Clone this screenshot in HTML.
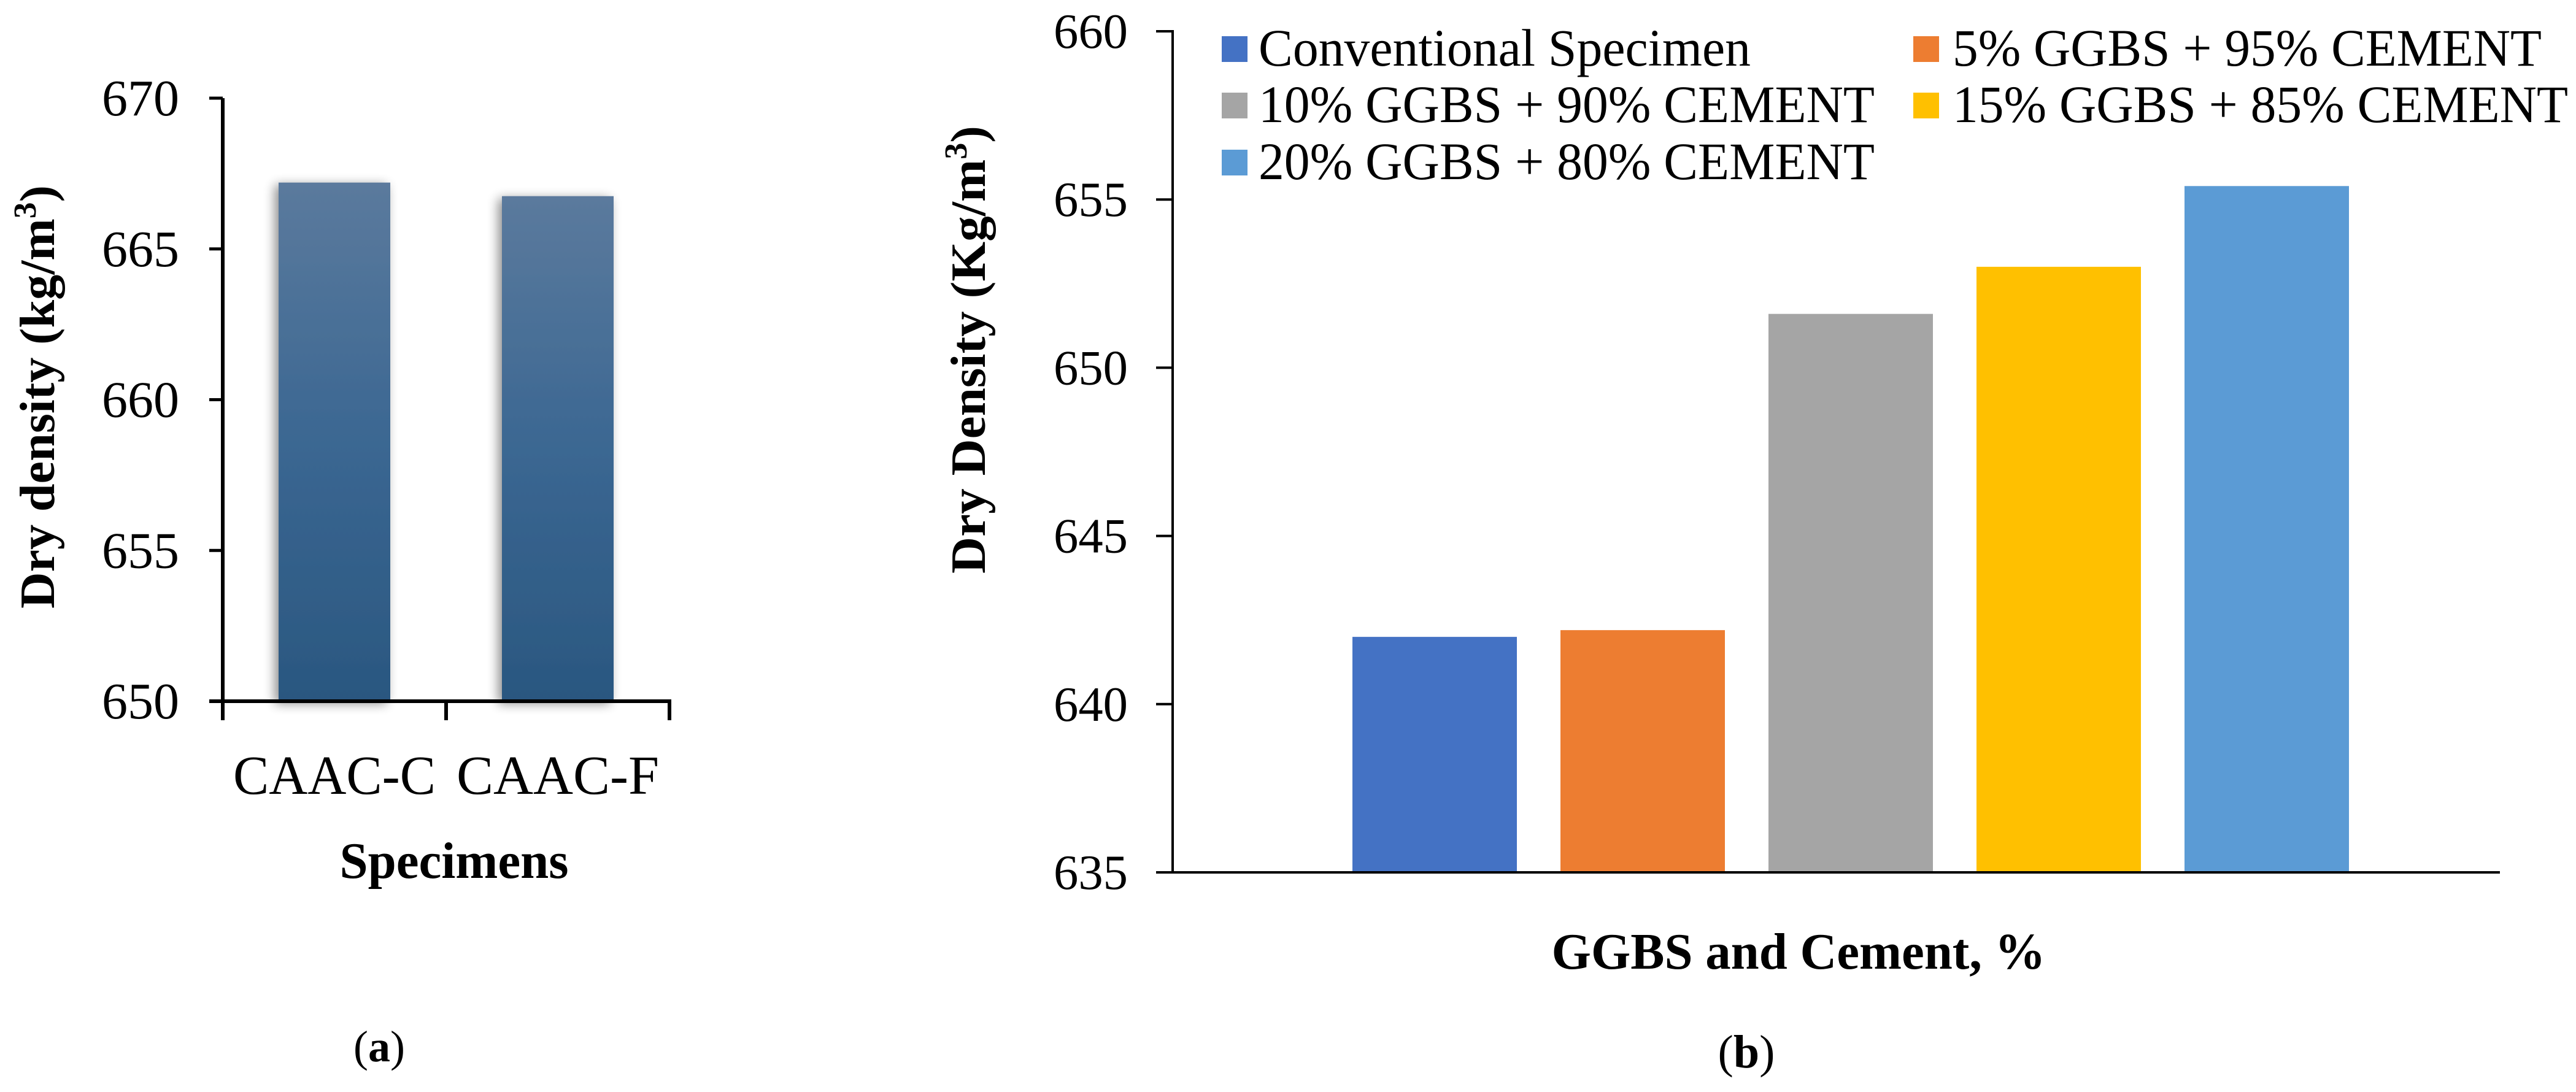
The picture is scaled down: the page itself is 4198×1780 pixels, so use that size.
<!DOCTYPE html>
<html><head><meta charset="utf-8"><style>
html,body{margin:0;padding:0;background:#fff}
svg{display:block}
text{font-family:"Liberation Serif",serif;fill:#000}
</style></head><body>
<svg id="fig" width="4198" height="1780" viewBox="0 0 4198 1780">
<defs>
<linearGradient id="gA" x1="0" y1="0" x2="0" y2="1"><stop offset="0" stop-color="#5b7a9d"/><stop offset="0.5" stop-color="#3b6792"/><stop offset="1" stop-color="#2a5780"/></linearGradient>
<filter id="sh" x="-20%" y="-5%" width="140%" height="110%"><feGaussianBlur in="SourceAlpha" stdDeviation="9"/><feOffset dx="-6" dy="4"/><feComponentTransfer><feFuncA type="linear" slope="0.45"/></feComponentTransfer><feMerge><feMergeNode/><feMergeNode in="SourceGraphic"/></feMerge></filter>
</defs>
<g id="chartA"></g>
<g id="chartB"></g>
</svg>
<script>
const NS='http://www.w3.org/2000/svg';
// Chart (a) data
const catsA=['CAAC-C','CAAC-F'];
const valsA=[667.2,666.75];
const ticksA=[650,655,660,665,670];
// Chart (b) data
const seriesB=['Conventional Specimen','5% GGBS + 95% CEMENT','10% GGBS + 90% CEMENT','15% GGBS + 85% CEMENT','20% GGBS + 80% CEMENT'];
const valsB=[642.0,642.2,651.6,653.0,655.4];
const ticksB=[635,640,645,650,655,660];
const colorsB=['#4472C4','#ED7D31','#A5A5A5','#FFC000','#5B9BD5'];

function mk(p,tag,attrs,txt){const e=document.createElementNS(NS,tag);for(const k in attrs)e.setAttribute(k,attrs[k]);if(txt!==undefined)e.textContent=txt;p.appendChild(e);return e;}

// ---- Chart A ----
const A=document.getElementById('chartA');
const axA={x0:363,x1:1091,yTop:160,yBot:1143,min:650,max:670};
const yA=v=>axA.yBot-(v-axA.min)/(axA.max-axA.min)*(axA.yBot-axA.yTop);
const bwA=(axA.x1-axA.x0)/catsA.length;
const xA=i=>axA.x0+bwA*i+bwA/2;
valsA.forEach((v,i)=>{
  const r=mk(A,'rect',{x:xA(i)-91,y:yA(v),width:182,height:axA.yBot-yA(v),fill:'url(#gA)',filter:'url(#sh)'});
  
  
  const t=mk(A,'text',{x:xA(i),y:1294,'font-size':90,'text-anchor':'middle',textLength:330,lengthAdjust:'spacingAndGlyphs'},catsA[i]);
  
  
});
ticksA.forEach(v=>{
  mk(A,'line',{x1:341,x2:axA.x0,y1:yA(v),y2:yA(v),stroke:'#000','stroke-width':5});
  const t=mk(A,'text',{x:292,y:yA(v)+28,'font-size':84,'text-anchor':'end'},String(v));
  
  
});
mk(A,'line',{x1:axA.x0,x2:axA.x0,y1:axA.yTop,y2:axA.yBot+30,stroke:'#000','stroke-width':6});
mk(A,'line',{x1:341,x2:axA.x1+3,y1:axA.yBot,y2:axA.yBot,stroke:'#000','stroke-width':6});
for(let i=0;i<=catsA.length;i++){mk(A,'line',{x1:axA.x0+bwA*i,x2:axA.x0+bwA*i,y1:axA.yBot,y2:1174,stroke:'#000','stroke-width':6});}
let t;
t=mk(A,'text',{x:740,y:1431,'font-size':84,'font-weight':'bold','text-anchor':'middle',textLength:373,lengthAdjust:'spacingAndGlyphs'},'Specimens');

t=mk(A,'text',{x:0,y:0,'font-size':80,'font-weight':'bold','text-anchor':'middle',transform:'translate(88,647) rotate(-90)',textLength:690,lengthAdjust:'spacingAndGlyphs'});
t.innerHTML='Dry density (kg/m<tspan font-size="52" dy="-30">3</tspan><tspan dy="30">)</tspan>';

t=mk(A,'text',{x:618,y:1730,'font-size':72,'text-anchor':'middle'});
t.innerHTML='(<tspan font-weight="bold">a</tspan>)';


// ---- Chart B ----
const B=document.getElementById('chartB');
const axB={x0:1911,x1:4074,yTop:51,yBot:1422,min:635,max:660};
const yB=v=>axB.yBot-(v-axB.min)/(axB.max-axB.min)*(axB.yBot-axB.yTop);
const xB=i=>2338+i*339;
valsB.forEach((v,i)=>{
  const r=mk(B,'rect',{x:xB(i)-134,y:yB(v),width:268,height:axB.yBot-yB(v),fill:colorsB[i]});
  
  
});
ticksB.forEach(v=>{
  mk(B,'line',{x1:1884,x2:axB.x0,y1:yB(v),y2:yB(v),stroke:'#000','stroke-width':4});
  const t=mk(B,'text',{x:1838,y:yB(v)+27,'font-size':80,'text-anchor':'end',textLength:121,lengthAdjust:'spacingAndGlyphs'},String(v));
  
  
});
mk(B,'line',{x1:axB.x0,x2:axB.x0,y1:axB.yTop-2,y2:axB.yBot,stroke:'#000','stroke-width':4});
mk(B,'line',{x1:axB.x0,x2:axB.x1,y1:axB.yBot,y2:axB.yBot,stroke:'#000','stroke-width':4});
// legend
const legPos=[[1991,107,802],[3118,107,960],[1991,199,1004],[3118,199,1003],[1991,292,1004]];
seriesB.forEach((s,i)=>{
  const [lx,ly,lw]=legPos[i];
  const g=mk(B,'g',{});
  
  
  mk(g,'rect',{x:lx,y:ly-48,width:42,height:42,fill:colorsB[i]});
  mk(g,'text',{x:lx+(i%2?64:60),y:ly,'font-size':86,textLength:lw,lengthAdjust:'spacingAndGlyphs'},s);
});
t=mk(B,'text',{x:2931,y:1579,'font-size':84,'font-weight':'bold','text-anchor':'middle',textLength:805,lengthAdjust:'spacingAndGlyphs'},'GGBS and Cement, %');

t=mk(B,'text',{x:0,y:0,'font-size':80,'font-weight':'bold','text-anchor':'middle',transform:'translate(1605,570) rotate(-90)',textLength:730,lengthAdjust:'spacingAndGlyphs'});
t.innerHTML='Dry Density (Kg/m<tspan font-size="52" dy="-30">3</tspan><tspan dy="30">)</tspan>';

t=mk(B,'text',{x:2846,y:1740,'font-size':76,'text-anchor':'middle'});
t.innerHTML='(<tspan font-weight="bold">b</tspan>)';

</script>
</body></html>
